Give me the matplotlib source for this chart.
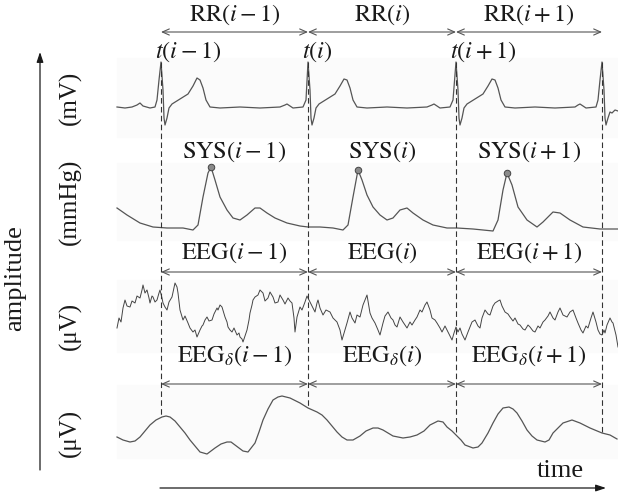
import matplotlib.pyplot as plt

plt.rcParams["mathtext.fontset"] = "stix"
plt.rcParams["font.family"] = "Liberation Serif"

# beat boundaries (R peaks) on the time axis
beat_x = [161, 308, 456, 602]
beat_bottom = [417, 408, 435, 433]
idx = ["i-1", "i", "i+1"]

# ECG (mV)
ecg_x = [117, 125, 132, 137, 140, 143, 150, 155, 157, 159, 161, 163, 164, 165, 167, 169,
         172, 180, 188, 193, 197, 200, 203, 206, 210, 220, 240, 260, 280, 285, 287, 290,
         293, 303, 306, 308, 310, 311, 312, 314, 316, 319, 327, 335, 340, 344, 347, 350,
         353, 357, 367, 387, 407, 427, 432, 434, 437, 440, 450, 453, 456, 458, 459, 460,
         462, 464, 467, 475, 483, 488, 492, 495, 498, 501, 505, 515, 535, 555, 575, 578,
         580, 583, 586, 596, 598, 600, 602, 604, 605, 606, 608, 610, 612, 615, 618]
ecg_y = [107, 108, 107, 105, 103, 106, 108, 107, 100, 80, 62, 90, 118, 125, 118, 108,
         104, 99, 94, 86, 78, 80, 88, 100, 107, 108, 107, 108, 107, 105, 104, 106,
         108, 107, 100, 62, 90, 118, 125, 118, 108, 104, 99, 94, 86, 79, 80, 88,
         100, 107, 108, 107, 108, 107, 105, 104, 106, 108, 107, 100, 62, 90, 118, 125,
         118, 108, 104, 99, 94, 86, 79, 80, 88, 100, 107, 108, 107, 108, 107, 105,
         104, 106, 108, 107, 100, 80, 62, 90, 118, 125, 118, 112, 113, 110, 111]

# arterial pressure (mmHg)
abp_x = [117, 127, 140, 153, 167, 183, 193, 198, 203, 208, 211, 215, 220, 227, 233, 240,
         247, 255, 260, 267, 275, 287, 300, 308, 320, 333, 343, 348, 353, 358, 362, 367,
         373, 380, 387, 393, 400, 407, 413, 423, 433, 447, 457, 473, 493, 498, 503, 507,
         512, 518, 527, 537, 543, 553, 560, 570, 583, 600, 613, 618]
abp_y = [208, 215, 223, 227, 228, 228, 230, 225, 197, 173, 167, 180, 197, 210, 218, 220,
         215, 208, 208, 213, 218, 223, 226, 227, 227, 228, 230, 225, 197, 170, 180, 195,
         207, 215, 220, 218, 210, 208, 213, 220, 225, 228, 228, 229, 231, 220, 190, 173,
         185, 207, 220, 227, 222, 212, 213, 220, 227, 229, 229, 229]
sys_x = [211, 358, 507]
sys_y = [167, 170, 173]

# EEG (uV)
eeg_x = [117, 119, 121, 123, 125, 127, 130, 132, 135, 137, 140, 142, 143, 145, 147, 149,
         150, 152, 153, 155, 157, 159, 160, 162, 163, 165, 167, 169, 172, 174, 175, 177,
         178, 180, 183, 185, 188, 190, 193, 195, 197, 200, 202, 203, 205, 207, 209, 212,
         214, 215, 217, 218, 220, 222, 225, 227, 228, 230, 232, 234, 237, 239, 240, 242,
         243, 245, 247, 249, 250, 252, 253, 255, 258, 260, 263, 265, 268, 270, 273, 275,
         278, 280, 283, 285, 288, 290, 292, 294, 295, 297, 300, 302, 305, 307, 308, 310,
         312, 315, 317, 318, 320, 323, 326, 330, 333, 337, 340, 342, 345, 347, 350, 352,
         355, 357, 360, 363, 367, 370, 372, 375, 378, 380, 383, 385, 388, 391, 393, 395,
         397, 400, 403, 407, 410, 412, 415, 417, 420, 422, 425, 427, 430, 432, 435, 437,
         440, 442, 445, 447, 450, 452, 454, 456, 458, 460, 462, 465, 468, 470, 472, 475,
         478, 480, 482, 485, 488, 490, 493, 495, 498, 500, 502, 505, 508, 510, 513, 515,
         518, 520, 523, 525, 528, 530, 533, 535, 538, 540, 543, 545, 548, 550, 553, 555,
         558, 560, 563, 567, 570, 573, 576, 578, 581, 583, 586, 588, 591, 593, 596, 598,
         600, 602, 604, 605, 607, 610, 612, 613, 616, 618]
eeg_y = [328, 318, 322, 308, 300, 306, 307, 301, 303, 296, 298, 290, 285, 293, 290, 298,
         303, 296, 297, 302, 300, 293, 290, 298, 303, 307, 310, 302, 297, 288, 283, 287,
         293, 310, 320, 316, 323, 328, 332, 330, 337, 330, 326, 325, 320, 317, 321, 320,
         314, 312, 308, 310, 305, 307, 317, 322, 327, 330, 332, 328, 335, 333, 337, 339,
         342, 336, 330, 320, 313, 305, 300, 297, 295, 290, 293, 301, 298, 292, 297, 303,
         302, 295, 300, 304, 298, 301, 303, 318, 332, 317, 307, 310, 302, 296, 298, 302,
         306, 312, 303, 300, 308, 315, 310, 312, 318, 322, 330, 340, 330, 323, 312, 318,
         323, 315, 317, 305, 295, 313, 318, 323, 330, 335, 323, 316, 312, 318, 320, 325,
         327, 317, 322, 328, 322, 325, 320, 317, 310, 312, 305, 302, 310, 318, 320, 323,
         328, 332, 326, 330, 336, 340, 333, 327, 332, 328, 334, 340, 332, 327, 322, 320,
         326, 328, 318, 310, 314, 315, 306, 303, 301, 300, 306, 312, 314, 317, 321, 318,
         324, 325, 329, 330, 325, 327, 331, 332, 326, 328, 322, 320, 316, 312, 318, 320,
         312, 308, 315, 317, 312, 310, 318, 323, 330, 333, 326, 328, 318, 312, 322, 330,
         334, 335, 330, 333, 325, 318, 322, 323, 335, 347]

# delta-band EEG (uV)
delta_x = [117, 123, 130, 135, 140, 145, 150, 156, 162, 166, 170, 175, 180, 185, 190, 195,
           200, 207, 215, 221, 227, 231, 235, 243, 248, 255, 259, 263, 268, 273, 278, 282,
           290, 300, 308, 317, 322, 327, 332, 337, 342, 347, 353, 360, 366, 373, 378, 383,
           388, 393, 403, 410, 417, 424, 430, 438, 443, 447, 452, 456, 461, 465, 473, 478,
           482, 488, 493, 498, 503, 509, 513, 517, 522, 527, 532, 537, 545, 549, 553, 558,
           563, 572, 580, 590, 602, 610, 617]
delta_y = [437, 440, 442, 441, 437, 431, 425, 420, 417, 416, 417, 421, 427, 433, 440, 446,
           452, 454, 448, 444, 442, 442, 445, 451, 452, 443, 432, 420, 409, 400, 397, 396,
           398, 403, 408, 412, 415, 420, 426, 432, 437, 440, 440, 436, 431, 428, 428, 430,
           433, 436, 438, 437, 435, 431, 425, 421, 422, 427, 431, 435, 440, 445, 448, 447,
           443, 433, 423, 414, 408, 407, 409, 413, 421, 430, 436, 440, 442, 440, 433, 428,
           423, 420, 423, 428, 433, 435, 439]

line_col = "#555555"
text_col = "#1a1a1a"
fs = 17.5

fig = plt.figure(figsize=(6.18, 4.93), dpi=100)
ax = fig.add_axes([0, 0, 1, 1])
ax.set_xlim(0, 618)
ax.set_ylim(493, 0)
ax.axis("off")

# very faint panels behind the signals
for top, bottom in [(58, 137), (163, 240), (280, 352), (385, 458)]:
    ax.axhspan(top, bottom, xmin=117 / 618, xmax=1, color="#fbfbfb", zorder=0)

ax.plot(ecg_x, ecg_y, color=line_col, lw=0.9)
ax.plot(abp_x, abp_y, color=line_col, lw=0.9)
ax.plot(eeg_x, eeg_y, color="#444444", lw=0.7)
ax.plot(delta_x, delta_y, color=line_col, lw=0.9)
ax.scatter(sys_x, sys_y, s=22, color="#8a8a8a", edgecolor="#444444", lw=0.7, zorder=3)

for x, yb in zip(beat_x, beat_bottom):
    ax.plot([x, x], [62, yb], color="#333333", lw=0.8, ls=(0, (5, 3)))

# interval arrows and labels
for row_y, lab_y, fmt in [(32, 15, r"$\mathrm{{RR}}({})$"),
                          (272, 253, r"$\mathrm{{EEG}}({})$"),
                          (384, 356, r"$\mathrm{{EEG}}_{{\delta}}({})$")]:
    for k in range(3):
        x0, x1 = beat_x[k], beat_x[k + 1]
        ax.annotate("", xy=(x1, row_y), xytext=(x0, row_y),
                    arrowprops=dict(arrowstyle="<->,head_length=0.5,head_width=0.22",
                                    color=line_col, lw=0.8, shrinkA=0, shrinkB=0))
        ax.text((x0 + x1) / 2, lab_y, fmt.format(idx[k]), ha="center", va="center",
                fontsize=fs, color=text_col)

for k in range(3):
    ax.text((beat_x[k] + beat_x[k + 1]) / 2, 152, r"$\mathrm{SYS}(%s)$" % idx[k],
            ha="center", va="center", fontsize=fs, color=text_col)
    ax.text(beat_x[k] - 6, 52, r"$t(%s)$" % idx[k], ha="left", va="center",
            fontsize=fs, color=text_col)

# units
for y, unit in [(98, "(mV)"), (202, "(mmHg)"), (326, "(μV)"), (433, "(μV)")]:
    ax.text(70, y, unit, rotation=90, ha="center", va="center", fontsize=18, color=text_col)

ax.text(15, 278, "amplitude", rotation=90, ha="center", va="center", fontsize=19, color=text_col)
ax.annotate("", xy=(40, 52), xytext=(40, 470),
            arrowprops=dict(arrowstyle="-|>,head_length=0.6,head_width=0.2",
                            color=text_col, lw=0.9, shrinkA=0, shrinkB=0))
ax.text(560, 471, "time", ha="center", va="center", fontsize=19, color=text_col)
ax.annotate("", xy=(606, 488), xytext=(160, 488),
            arrowprops=dict(arrowstyle="-|>,head_length=0.6,head_width=0.2",
                            color=text_col, lw=0.9, shrinkA=0, shrinkB=0))

fig.savefig("out.png", dpi=100)
